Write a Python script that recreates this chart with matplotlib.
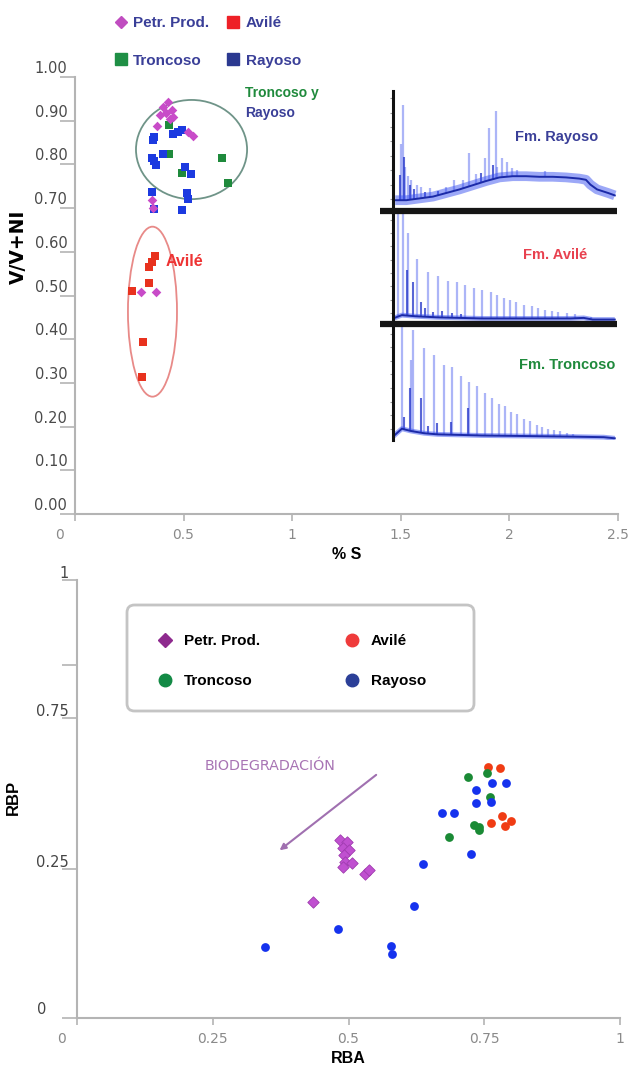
import numpy as np
import matplotlib
matplotlib.use("Agg")
import matplotlib.pyplot as plt
from matplotlib.patches import Ellipse, FancyBboxPatch
from matplotlib.lines import Line2D
from matplotlib.transforms import ScaledTranslation

W, H = 629, 1072
plt.rcParams["font.family"] = ["DejaVu Sans"]
BOLD = {"family": "Liberation Sans", "weight": "bold"}

# ---- top panel: V/(V+Ni) vs % S ----
petr_s = [0.429, 0.406, 0.447, 0.392, 0.452, 0.419, 0.438, 0.378, 0.544, 0.521,
          0.355, 0.359, 0.304, 0.373]
petr_v = [0.943, 0.931, 0.924, 0.913, 0.908, 0.918, 0.904, 0.888, 0.865, 0.874,
          0.719, 0.700, 0.508, 0.508]
ray_s = [0.364, 0.359, 0.452, 0.493, 0.475, 0.406, 0.355, 0.373, 0.364, 0.507,
         0.535, 0.355, 0.364, 0.516, 0.521, 0.493]
ray_v = [0.863, 0.856, 0.870, 0.878, 0.874, 0.824, 0.815, 0.799, 0.808, 0.794,
         0.778, 0.737, 0.698, 0.735, 0.721, 0.695]
tro_s = [0.433, 0.433, 0.493, 0.677, 0.705]
tro_v = [0.890, 0.824, 0.780, 0.815, 0.757]
avi_s = [0.369, 0.355, 0.341, 0.341, 0.263, 0.313, 0.309]
avi_v = [0.590, 0.577, 0.565, 0.529, 0.510, 0.394, 0.313]

# cluster outlines (centre x, centre y, width, height)
ell_tr = (0.537, 0.834, 0.512, 0.227)
ell_av = (0.357, 0.463, 0.226, 0.389)

# ---- bottom panel: RBP vs RBA ----
p_rba = [0.485, 0.498, 0.489, 0.500, 0.491, 0.494, 0.506, 0.489, 0.531, 0.537, 0.435]
p_rbp = [0.406, 0.402, 0.388, 0.384, 0.372, 0.356, 0.354, 0.345, 0.329, 0.338, 0.265]
a_rba = [0.756, 0.779, 0.762, 0.782, 0.788, 0.799]
a_rbp = [0.573, 0.571, 0.445, 0.461, 0.438, 0.450]
t_rba = [0.720, 0.755, 0.760, 0.731, 0.740, 0.686, 0.740]
t_rbp = [0.550, 0.559, 0.505, 0.441, 0.429, 0.413, 0.436]
r_rba = [0.764, 0.790, 0.734, 0.734, 0.762, 0.672, 0.694, 0.725, 0.638, 0.620,
         0.480, 0.347, 0.578, 0.581]
r_rbp = [0.537, 0.537, 0.521, 0.491, 0.493, 0.468, 0.468, 0.374, 0.352, 0.256,
         0.203, 0.162, 0.164, 0.146]
rbp_ticks = [0, 0.340, 0.685, 0.806, 1.0]
rbp_labels = ["0", "0.25", "0.75", "", "1"]
rba_ticks = [0, 0.25, 0.5, 0.75, 1]
rba_labels = ["0", "0.25", "0.5", "0.75", "1"]

# ---- chromatograms (retention 0-100, abundance 0-100) ----
ray_base_t = [1, 6, 12, 18, 24, 30, 36, 42, 48, 54, 60, 66, 72, 78, 84, 87, 89, 92, 97, 100]
ray_base_a = [9, 9, 10.5, 12, 15, 18, 21.5, 25, 28, 29, 29, 28.5, 28.5, 28, 27, 26, 22, 18, 15, 13]
ray_pk_t = [4.3, 3.4, 5.4, 6.8, 8.3, 10.6, 12.8, 16.5, 24, 27.7, 31.4, 34.4, 37.4,
            41.5, 43.3, 46.6, 47.0, 49.2, 51.5, 53.7, 55.9, 68.6]
ray_pk_a = [88, 56, 37, 29, 26, 22, 20, 19, 20, 26, 26, 48, 31, 44, 69, 83, 37, 44,
            41, 36, 34, 33]
ray_mn_t = [3.0, 5.0, 7.5, 9.5, 14.5, 20.5, 39.5, 45.0]
ray_mn_a = [30, 45, 22, 18, 16, 17, 32, 38]

avi_base_t = [0, 4, 10, 20, 40, 60, 80, 86, 90, 100]
avi_base_a = [5, 8, 7, 6, 5, 5, 5, 5.5, 4, 4]
avi_pk_t = [2.4, 4.3, 6.8, 10.8, 15.8, 20.2, 24.7, 28.7, 32.6, 36.6, 40.3, 44.1,
            47.0, 50.0, 52.7, 55.5, 58.9, 62.6, 65.6, 68.6, 71.6, 74.6, 78.3, 82.0, 89.4]
avi_pk_a = [100, 100, 82, 59, 47, 43, 39, 38, 35, 32, 31, 29, 26, 23, 22, 20, 17,
            16, 14, 13, 12, 10.5, 9.6, 8.7, 6.6]
avi_mn_t = [6.1, 9.1, 12.5, 14.5, 18, 22, 26.5, 30.5]
avi_mn_a = [49, 38, 20, 14, 11, 12, 10, 9]

tro_base_t = [0, 4, 8, 14, 20, 40, 60, 80, 95, 100]
tro_base_a = [3, 10, 8, 6, 5, 4, 3.5, 3, 2.5, 1.5]
tro_pk_t = [3.9, 9.1, 7.9, 13.8, 18.3, 22.8, 26.6, 30.7, 34.4, 38.1, 41.5, 44.8,
            47.8, 50.4, 53.0, 55.9, 58.9, 61.9, 64.9, 67.4, 70.1, 72.8, 75.3, 78.3, 81.3]
tro_pk_a = [100, 97, 71, 81, 75, 66, 64.5, 57, 51, 48, 42, 37, 32, 30, 25, 23,
            18.6, 16.5, 13.5, 11.7, 10, 8.5, 7.6, 6.4, 4.9]
tro_mn_t = [7.6, 12.8, 33.6, 5, 20, 26, 16]
tro_mn_a = [46, 37, 28, 20, 15, 16, 12]

NAVY = "#3a3f98"
fig = plt.figure(figsize=(W / 100, H / 100), dpi=100)


def px_axes(x0, y0, x1, y1):
    return fig.add_axes([x0 / W, 1 - y1 / H, (x1 - x0) / W, (y1 - y0) / H])


def shift(lbl, dx, dy):
    lbl.set_transform(lbl.get_transform()
                      + ScaledTranslation(dx / 100, dy / 100, fig.dpi_scale_trans))


def style_axes(ax):
    for side in ("top", "right"):
        ax.spines[side].set_visible(False)
    for side in ("left", "bottom"):
        ax.spines[side].set_color("#b4b4b4")
        ax.spines[side].set_linewidth(1.5)
    ax.tick_params(axis="y", length=10.5, width=1.2, color="#b4b4b4",
                   labelcolor="#4a4a4a", labelsize=10.5, pad=-5)
    ax.tick_params(axis="x", length=5, width=1.2, color="#b4b4b4",
                   labelcolor="#8a8a8a", labelsize=10, pad=5)


# ---------------- top scatter ----------------
ax1 = px_axes(75, 77, 617.5, 514)
ax1.set_xlim(0, 2.5)
ax1.set_ylim(0, 1.0)
style_axes(ax1)
ax1.set_xticks([0, 0.5, 1, 1.5, 2, 2.5])
ax1.set_xticklabels(["0", "0.5", "1", "1.5", "2", "2.5"])
ax1.set_yticks(np.arange(0, 1.01, 0.1))
ax1.set_yticklabels(["%.2f" % v for v in np.arange(0, 1.01, 0.1)])
for lbl in ax1.get_yticklabels():
    shift(lbl, 0, 10)
shift(ax1.get_xticklabels()[0], -16, 0)

ax1.add_patch(Ellipse(ell_tr[:2], ell_tr[2], ell_tr[3], fill=False,
                      ec="#6f9488", lw=1.3))
ax1.add_patch(Ellipse(ell_av[:2], ell_av[2], ell_av[3], fill=False,
                      ec="#e88a88", lw=1.3))
ax1.scatter(avi_s, avi_v, marker="s", s=26, color="#e8321e", lw=0, zorder=3)
ax1.scatter(tro_s, tro_v, marker="s", s=26, color="#1f8a3c", lw=0, zorder=3)
ax1.scatter(ray_s, ray_v, marker="s", s=30, color="#1c3ae0", lw=0, zorder=3)
ax1.scatter(petr_s, petr_v, marker="D", s=24, color="#c84bc8", lw=0, zorder=4)

ax1.text(0.783, 0.963, "Troncoso y", color="#1f8a3c", fontsize=10, va="center", **BOLD)
ax1.text(0.783, 0.918, "Rayoso", color=NAVY, fontsize=10, va="center", **BOLD)
ax1.text(0.419, 0.577, "Avilé", color="#ee3333", fontsize=11.5, va="center", **BOLD)
ax1.set_xlabel("% S", fontsize=11.5, labelpad=4, **BOLD)
fig.text(18 / W, 1 - 247 / H, "V/V+NI", rotation=90, ha="center", va="center",
         fontsize=13.5, family="DejaVu Sans", weight="bold")

top_handles = [
    Line2D([], [], ls="", marker="D", ms=6, color="#c04dc0"),
    Line2D([], [], ls="", marker="s", ms=9, color="#1f8f45"),
    Line2D([], [], ls="", marker="s", ms=9, color="#ee2027"),
    Line2D([], [], ls="", marker="s", ms=9, color="#2b3990"),
]
fig.legend(top_handles, ["Petr. Prod.", "Troncoso", "Avilé", "Rayoso"], ncol=2,
           loc="upper left", bbox_to_anchor=(113 / W, 1 - 16 / H), frameon=False,
           prop={"family": "Liberation Sans", "weight": "bold", "size": 11},
           labelcolor=NAVY, handlelength=1.0, handletextpad=0.3,
           columnspacing=1.1, labelspacing=1.55, borderpad=0, borderaxespad=0)


# ---------------- chromatogram insets ----------------
def chrom(box, base_t, base_a, pk_t, pk_a, mn_t, mn_a, band, title, tcolor, tx, ty):
    ax = px_axes(*box)
    ax.set_xlim(0, 101)
    ax.set_ylim(0, 100)
    for side in ("top", "right", "bottom"):
        ax.spines[side].set_visible(False)
    ax.spines["left"].set_color("#111111")
    ax.spines["left"].set_linewidth(2.2)
    ax.set_xticks([])
    ax.set_yticks(np.arange(10, 100, 12))
    ax.tick_params(axis="y", length=2.5, width=0.8, color="#999999", labelleft=False)
    ax.vlines(pk_t, np.interp(pk_t, base_t, base_a), pk_a, color="#5a6cf0",
              lw=1.6, alpha=0.5)
    ax.vlines(mn_t, np.interp(mn_t, base_t, base_a), mn_a, color="#2233c8",
              lw=1.5, alpha=0.75)
    ax.plot(base_t, base_a, color="#3a52f0", lw=band, alpha=0.5,
            solid_capstyle="butt")
    ax.plot(base_t, base_a, color="#1b2aa8", lw=1.4)
    ax.text(tx, ty, title, transform=ax.transAxes, ha="center", va="center",
            color=tcolor, fontsize=10.5, **BOLD)
    return ax


chrom((393, 91, 617, 211), ray_base_t, ray_base_a, ray_pk_t, ray_pk_a,
      ray_mn_t, ray_mn_a, 7, "Fm. Rayoso", NAVY, 0.73, 0.617)
chrom((393, 213, 617, 324), avi_base_t, avi_base_a, avi_pk_t, avi_pk_a,
      avi_mn_t, avi_mn_a, 3.5, "Fm. Avilé", "#e8414f", 0.723, 0.62)
chrom((393, 327, 617, 440), tro_base_t, tro_base_a, tro_pk_t, tro_pk_a,
      tro_mn_t, tro_mn_a, 3.5, "Fm. Troncoso", "#1f8a3c", 0.779, 0.666)
for yb in (211, 324):
    fig.add_artist(Line2D([380 / W, 617 / W], [1 - yb / H] * 2, lw=4.5,
                          color="#151515", solid_capstyle="butt"))

# ---------------- bottom scatter ----------------
ax2 = px_axes(77, 580, 620, 1018)
ax2.set_xlim(0, 1)
ax2.set_ylim(0, 1)
style_axes(ax2)
ax2.tick_params(axis="y", length=11, labelcolor="#444444", labelsize=10.5)
ax2.set_xticks(rba_ticks)
ax2.set_xticklabels(rba_labels)
ax2.set_yticks(rbp_ticks)
ax2.set_yticklabels(rbp_labels)
for lbl in ax2.get_yticklabels():
    shift(lbl, 0, 8)
shift(ax2.get_yticklabels()[0], -22, 2)
shift(ax2.get_xticklabels()[0], -15, 0)

ax2.scatter(a_rba, a_rbp, s=40, color="#f03c14", lw=0, zorder=3)
ax2.scatter(t_rba, t_rbp, s=40, color="#1a8a35", lw=0, zorder=3)
ax2.scatter(r_rba, r_rbp, s=40, color="#1532ee", lw=0, zorder=3)
ax2.scatter(p_rba, p_rbp, marker="D", s=34, color="#c050d0", ec="#a03cb0",
            lw=0.6, zorder=4)

ax2.annotate("", xy=(0.369, 0.379), xytext=(0.555, 0.559),
             arrowprops=dict(arrowstyle="-|>", color="#a070b0", lw=1.5,
                             mutation_scale=9))
ax2.text(0.356, 0.575, "BIODEGRADACIÓN", ha="center", va="center",
         color="#a874b4", fontsize=10.3)
ax2.set_xlabel("RBA", fontsize=11.5, labelpad=4, **BOLD)
fig.text(13 / W, 1 - 797 / H, "RBP", rotation=90, ha="center", va="center",
         fontsize=12, **BOLD)

# legend frame (rounded grey box) with a frameless legend inside
fig.add_artist(FancyBboxPatch((127 / W, 1 - 711 / H), 347 / W, 106 / H,
                              boxstyle="round,pad=0,rounding_size=0.012",
                              mutation_aspect=W / H, transform=fig.transFigure,
                              fc="white", ec="#c4c4c4", lw=2, zorder=5))
bot_handles = [
    Line2D([], [], ls="", marker="D", ms=7, color="#8e2a8e"),
    Line2D([], [], ls="", marker="o", ms=9, color="#138a45"),
    Line2D([], [], ls="", marker="o", ms=9, color="#ef3b3b"),
    Line2D([], [], ls="", marker="o", ms=9, color="#2b3f98"),
]
leg = fig.legend(bot_handles, ["Petr. Prod.", "Troncoso", "Avilé", "Rayoso"],
                 ncol=2, loc="upper left", bbox_to_anchor=(157.5 / W, 1 - 634 / H),
                 prop={"family": "Liberation Sans", "weight": "bold", "size": 11},
                 handlelength=1.0, handletextpad=0.75, labelspacing=1.7,
                 columnspacing=5.5, borderpad=0, borderaxespad=0, frameon=False)
leg.set_zorder(6)

fig.savefig("out.png", dpi=100)
